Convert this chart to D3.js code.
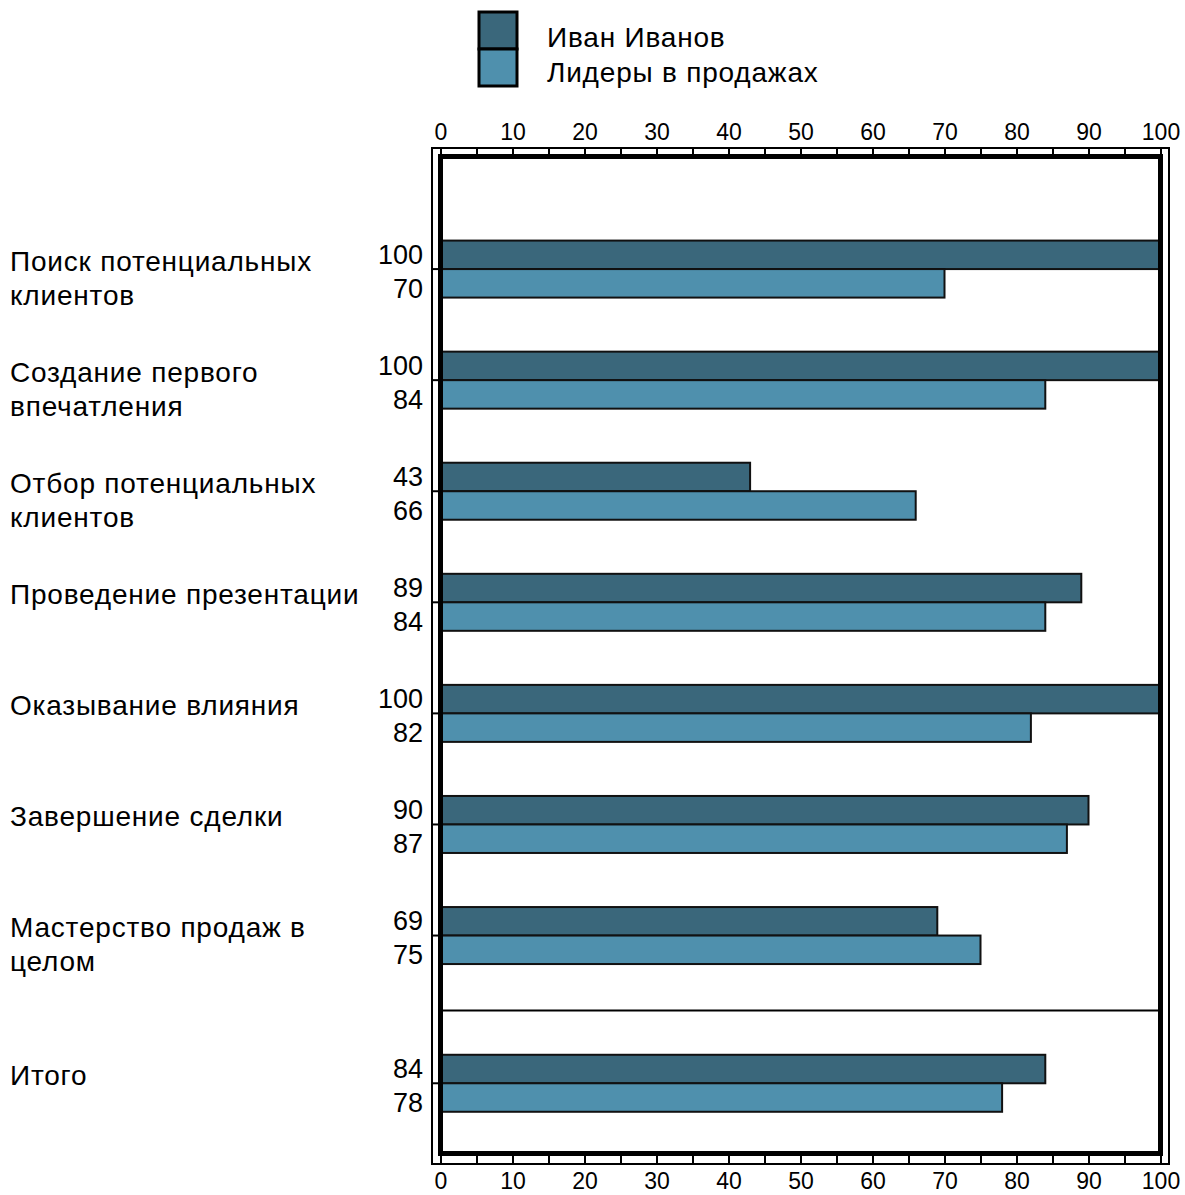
<!DOCTYPE html>
<html>
<head>
<meta charset="utf-8">
<script src="https://cdn.jsdelivr.net/npm/d3@7"></script>
<style>
  body { margin: 0; background: #fff; }
  text { font-family: "Liberation Sans", Arial, sans-serif; fill: #000; }
</style>
</head>
<body>
<svg id="chart" width="1185" height="1195"></svg>
<script>
// categories (last one is the total row, split off by a line)
const categories = [
  ["Поиск потенциальных", "клиентов"],
  ["Создание первого", "впечатления"],
  ["Отбор потенциальных", "клиентов"],
  ["Проведение презентации"],
  ["Оказывание влияния"],
  ["Завершение сделки"],
  ["Мастерство продаж в", "целом"],
  ["Итого"]
];
const seriesNames = ["Иван Иванов", "Лидеры в продажах"];
const ivanValues = [100, 100, 43, 89, 100, 90, 69, 84];
const leaderValues = [70, 84, 66, 84, 82, 87, 75, 78];
const tickValues = d3.range(0, 101, 5);
const colors = ["#3a677b", "#4f90ad"];

const svg = d3.select("#chart");

const fLeft = 440.5, fRight = 1160.5, fTop = 156.5, fBottom = 1153.5;
const x = d3.scaleLinear().domain([0, 100]).range([fLeft, fRight]);
// rows: 1..7 = categories, total row sits below a divider
const y = d3.scaleLinear().domain([0, 9]).range([158, 1157.7]);
const rowOf = (i) => i < categories.length - 1 ? i + 1 : 8.33;
const dividerRow = 7.675;
const barH = 28.5;

// outer thin frame
svg.append("rect")
  .attr("x", fLeft - 8.5).attr("y", fTop - 8.5)
  .attr("width", fRight - fLeft + 17).attr("height", fBottom - fTop + 19)
  .attr("fill", "none").attr("stroke", "#000").attr("stroke-width", 2);

// axes (ticks in the gap between the frames)
const fmt = (d) => d % 10 === 0 ? d : "";
const topAxis = d3.axisTop(x).tickValues(tickValues).tickFormat(fmt).tickSize(8).tickPadding(9);
const bottomAxis = d3.axisBottom(x).tickValues(tickValues).tickFormat(fmt).tickSize(10).tickPadding(9);

[ [topAxis, fTop], [bottomAxis, fBottom] ].forEach(([ax, ty]) => {
  const g = svg.append("g").attr("transform", "translate(0," + ty + ")").call(ax);
  g.select(".domain").remove();
  g.selectAll(".tick line").attr("stroke", "#000").attr("stroke-width", 2);
  g.selectAll(".tick text").attr("font-size", 23).attr("fill", "#000")
    .style("font-family", "'Liberation Sans', Arial, sans-serif");
});

// bars
const groups = svg.selectAll(".cat")
  .data(categories.map((c, i) => ({ lines: c, vals: [ivanValues[i], leaderValues[i]], row: rowOf(i) })))
  .enter().append("g").attr("class", "cat");

groups.selectAll("rect")
  .data((d) => d.vals.map((v, k) => ({ v, k, cy: y(d.row) })))
  .enter().append("rect")
  .attr("x", x(0))
  .attr("y", (d) => d.cy - barH + d.k * barH)
  .attr("width", (d) => x(d.v) - x(0))
  .attr("height", barH)
  .attr("fill", (d) => colors[d.k])
  .attr("stroke", "#111").attr("stroke-width", 2);

// value labels
groups.selectAll(".val")
  .data((d) => d.vals.map((v, k) => ({ v, k, cy: y(d.row) })))
  .enter().append("text")
  .attr("class", "val")
  .attr("x", 423)
  .attr("y", (d) => d.cy + (d.k === 0 ? -15 : 19))
  .attr("dy", "0.35em")
  .attr("text-anchor", "end")
  .attr("font-size", 27)
  .text((d) => d.v);

// category labels
groups.append("text")
  .attr("x", 10)
  .attr("y", (d) => y(d.row) - 8)
  .attr("font-size", 28)
  .attr("letter-spacing", 0.8)
  .selectAll("tspan")
  .data((d) => d.lines)
  .enter().append("tspan")
  .attr("x", 10)
  .attr("dy", (d, i) => i === 0 ? "0.35em" : 34)
  .text((d) => d);

// small row ticks between the frames
groups.append("line")
  .attr("x1", fLeft - 8.5).attr("x2", fLeft)
  .attr("y1", (d) => y(d.row)).attr("y2", (d) => y(d.row))
  .attr("stroke", "#000").attr("stroke-width", 2);

// divider before the total
svg.append("line")
  .attr("x1", fLeft).attr("x2", fRight)
  .attr("y1", y(dividerRow)).attr("y2", y(dividerRow))
  .attr("stroke", "#000").attr("stroke-width", 2);

// thick inner frame
svg.append("rect")
  .attr("x", fLeft).attr("y", fTop)
  .attr("width", fRight - fLeft).attr("height", fBottom - fTop)
  .attr("fill", "none").attr("stroke", "#000").attr("stroke-width", 5);

// legend
const legend = svg.append("g");
seriesNames.forEach((name, k) => {
  legend.append("rect")
    .attr("x", 479).attr("y", 12 + k * 37)
    .attr("width", 38).attr("height", 37)
    .attr("fill", colors[k]).attr("stroke", "#000").attr("stroke-width", 3);
  legend.append("text")
    .attr("x", 547).attr("y", 37 + k * 35)
    .attr("dy", "0.35em")
    .attr("font-size", 28)
    .attr("letter-spacing", 0.8)
    .text(name);
});
</script>
</body>
</html>
